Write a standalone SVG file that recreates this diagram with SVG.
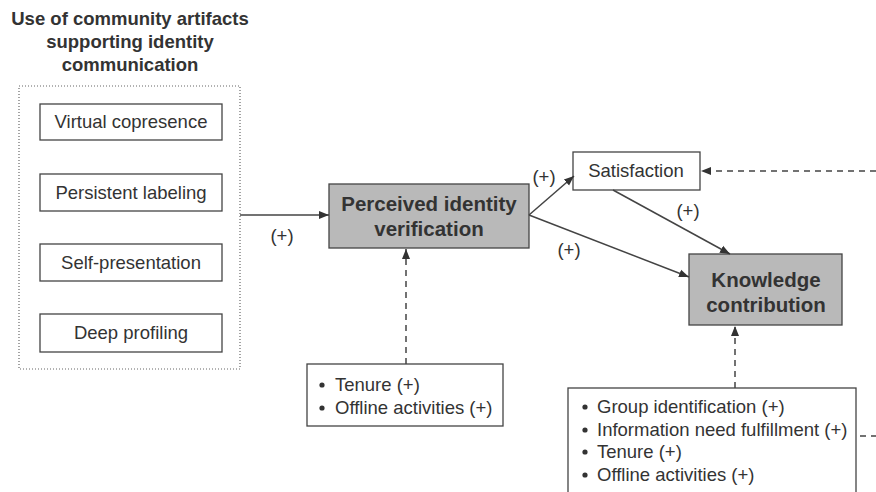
<svg xmlns="http://www.w3.org/2000/svg" width="876" height="492" viewBox="0 0 876 492">
<defs>
<style>
text{font-family:"Liberation Sans",Arial,sans-serif;fill:#333;}
.t{font-size:18.5px;}
.b{font-size:20.5px;font-weight:bold;}
.h{font-size:18.5px;font-weight:bold;}
.box{fill:#fff;stroke:#444;stroke-width:1.3;}
.gray{fill:#b9b9b9;stroke:#444;stroke-width:1.3;}
.ln{stroke:#444;stroke-width:1.5;fill:none;}
.dash{stroke:#444;stroke-width:1.5;fill:none;stroke-dasharray:6 5;}
.dot{fill:none;stroke:#666;stroke-width:1.2;stroke-dasharray:1 2;}
</style>
<marker id="ah" viewBox="0 0 10 10" refX="10" refY="5" markerWidth="10" markerHeight="10" markerUnits="userSpaceOnUse" orient="auto">
<path d="M0,1 L10,5 L0,9 Z" fill="#333"/>
</marker>
</defs>

<g id="title">
<text class="h" x="130" y="25" text-anchor="middle">Use of community artifacts</text>
<text class="h" x="130" y="48" text-anchor="middle">supporting identity</text>
<text class="h" x="130" y="71" text-anchor="middle">communication</text>
</g>

<g id="artifacts">
<rect class="dot" x="19" y="86" width="221" height="283"/>
<g id="virtual-copresence">
<rect class="box" x="40" y="104" width="182" height="36"/>
<text class="t" x="131" y="128" text-anchor="middle">Virtual copresence</text>
</g>
<g id="persistent-labeling">
<rect class="box" x="40" y="174" width="182" height="37"/>
<text class="t" x="131" y="199" text-anchor="middle">Persistent labeling</text>
</g>
<g id="self-presentation">
<rect class="box" x="40" y="244" width="182" height="37"/>
<text class="t" x="131" y="269" text-anchor="middle">Self-presentation</text>
</g>
<g id="deep-profiling">
<rect class="box" x="40" y="314" width="182" height="38"/>
<text class="t" x="131" y="339" text-anchor="middle">Deep profiling</text>
</g>
</g>

<g id="perceived-identity-verification">
<rect class="gray" x="329" y="184" width="200" height="64"/>
<text class="b" x="429" y="211" text-anchor="middle">Perceived identity</text>
<text class="b" x="429" y="236" text-anchor="middle">verification</text>
</g>

<g id="satisfaction">
<rect class="box" x="573" y="152" width="127" height="38"/>
<text class="t" x="636" y="177" text-anchor="middle">Satisfaction</text>
</g>

<g id="knowledge-contribution">
<rect class="gray" x="689" y="254" width="153" height="71"/>
<text class="b" x="766" y="287" text-anchor="middle">Knowledge</text>
<text class="b" x="766" y="312" text-anchor="middle">contribution</text>
</g>

<g id="controls-identity">
<rect class="box" x="307" y="364" width="196" height="62"/>
<circle cx="322" cy="385" r="2.6" fill="#333"/>
<text class="t" x="335" y="391">Tenure (+)</text>
<circle cx="322" cy="408" r="2.6" fill="#333"/>
<text class="t" x="335" y="414">Offline activities (+)</text>
</g>

<g id="controls-knowledge">
<rect class="box" x="568" y="388" width="288" height="110"/>
<circle cx="585" cy="407" r="2.6" fill="#333"/>
<text class="t" x="597" y="413">Group identification (+)</text>
<circle cx="585" cy="430" r="2.6" fill="#333"/>
<text class="t" x="597" y="436">Information need fulfillment (+)</text>
<circle cx="585" cy="452" r="2.6" fill="#333"/>
<text class="t" x="597" y="458">Tenure (+)</text>
<circle cx="585" cy="475" r="2.6" fill="#333"/>
<text class="t" x="597" y="481">Offline activities (+)</text>
</g>

<g id="connectors">
<line class="ln" x1="240" y1="215" x2="329" y2="215" marker-end="url(#ah)"/>
<text class="t" x="282" y="242" text-anchor="middle">(+)</text>
<line class="ln" x1="529" y1="215" x2="574" y2="176" marker-end="url(#ah)"/>
<text class="t" x="544" y="183" text-anchor="middle">(+)</text>
<line class="ln" x1="529" y1="215" x2="689" y2="277" marker-end="url(#ah)"/>
<text class="t" x="569" y="256" text-anchor="middle">(+)</text>
<line class="ln" x1="613" y1="190" x2="730" y2="254" marker-end="url(#ah)"/>
<text class="t" x="688" y="217" text-anchor="middle">(+)</text>
<line class="dash" x1="406" y1="364" x2="406" y2="249" marker-end="url(#ah)"/>
<line class="dash" x1="735" y1="388" x2="735" y2="326" marker-end="url(#ah)"/>
<line class="dash" x1="876" y1="171" x2="701" y2="171" marker-end="url(#ah)"/>
<line class="dash" x1="860" y1="436" x2="876" y2="436" stroke-dasharray="5 4"/>
</g>
</svg>
